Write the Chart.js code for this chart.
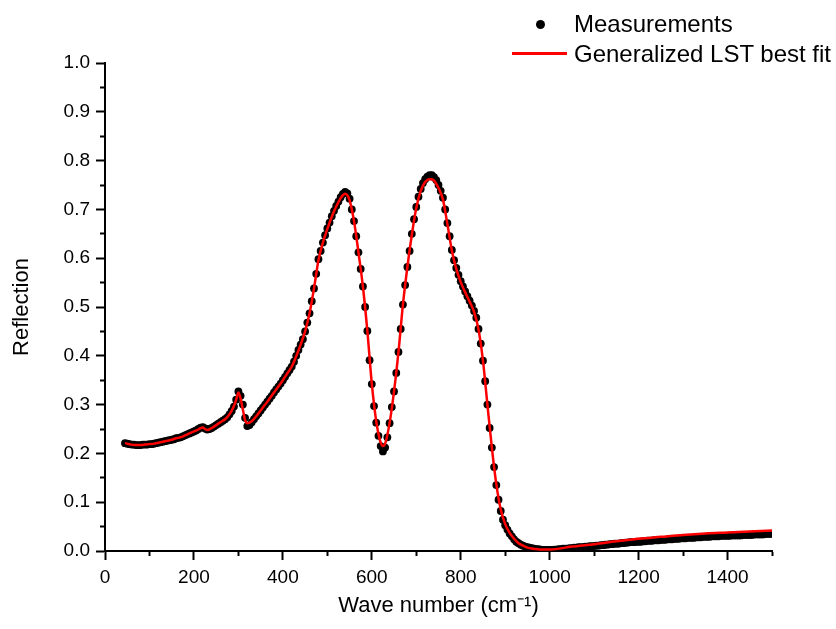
<!DOCTYPE html>
<html>
<head>
<meta charset="utf-8">
<script src="https://cdn.jsdelivr.net/npm/chart.js@4.4.1/dist/chart.umd.min.js"></script>
<style>
html,body{margin:0;padding:0;background:#fff;}
#wrap{position:relative;width:836px;height:629px;}
#legend{position:absolute;left:0;top:0;width:836px;height:70px;font-family:"Liberation Sans",Arial,sans-serif;font-size:24px;color:#000;pointer-events:none;}
.lt{position:absolute;left:574px;height:28px;line-height:28px;white-space:nowrap;}
.dot{position:absolute;left:536px;top:20px;width:9px;height:9px;border-radius:50%;background:#000;}
.ln{position:absolute;left:512px;top:52px;width:55px;height:2.5px;background:#ff0000;}
</style>
</head>
<body>
<div id="wrap">
<canvas id="c" width="836" height="629"></canvas>
<div id="legend">
  <div class="dot"></div><div class="lt" style="top:10px">Measurements</div>
  <div class="ln"></div><div class="lt" style="top:40px">Generalized LST best fit</div>
</div>
</div>
<script>
// Measurements: wave number (cm^-1) and reflection
const measWave = [
45,50,55,60,65,70,75,80,85,90,95,100,105,110,115,120,125,130,135,140,
145,150,155,160,165,170,175,180,185,190,195,200,205,210,215,220,225,230,235,240,
245,250,255,260,265,270,275,280,285,290,295,300,305,310,315,320,325,330,335,340,
345,350,355,360,365,370,375,380,385,390,395,400,405,410,415,420,425,430,435,440,
445,450,455,460,465,470,475,480,485,490,495,500,505,510,515,520,525,530,535,540,
545,550,555,560,565,570,575,580,585,590,595,600,605,610,615,620,625,630,635,640,
645,650,655,660,665,670,675,680,685,690,695,700,705,710,715,720,725,730,735,740,
745,750,755,760,765,770,775,780,785,790,795,800,805,810,815,820,825,830,835,840,
845,850,855,860,865,870,875,880,885,890,895,900,905,910,915,920,925,930,935,940,
945,950,955,960,965,970,975,980,985,990,995,1000,1005,1010,1015,1020,1025,1030,1035,1040,
1045,1050,1055,1060,1065,1070,1075,1080,1085,1090,1095,1100,1105,1110,1115,1120,1125,1130,1135,1140,
1145,1150,1155,1160,1165,1170,1175,1180,1185,1190,1195,1200,1205,1210,1215,1220,1225,1230,1235,1240,
1245,1250,1255,1260,1265,1270,1275,1280,1285,1290,1295,1300,1305,1310,1315,1320,1325,1330,1335,1340,
1345,1350,1355,1360,1365,1370,1375,1380,1385,1390,1395,1400,1405,1410,1415,1420,1425,1430,1435,1440,
1445,1450,1455,1460,1465,1470,1475,1480,1485,1490,1495,1500
];
const measRefl = [
0.221,0.220,0.219,0.218,0.218,0.217,0.217,0.217,0.218,0.218,0.218,0.219,0.219,0.220,0.221,0.222,0.223,0.224,0.225,0.226,
0.227,0.228,0.229,0.231,0.232,0.233,0.235,0.237,0.239,0.241,0.243,0.245,0.247,0.250,0.253,0.254,0.251,0.249,0.250,0.252,
0.255,0.258,0.261,0.264,0.267,0.270,0.274,0.280,0.287,0.296,0.310,0.327,0.318,0.300,0.273,0.256,0.258,0.264,0.270,0.276,
0.282,0.288,0.294,0.300,0.306,0.312,0.318,0.325,0.331,0.337,0.343,0.350,0.357,0.364,0.371,0.378,0.388,0.400,0.412,0.423,
0.434,0.450,0.468,0.487,0.512,0.538,0.568,0.598,0.615,0.632,0.647,0.661,0.673,0.686,0.697,0.707,0.716,0.725,0.732,0.736,
0.733,0.722,0.700,0.676,0.645,0.612,0.578,0.542,0.500,0.451,0.391,0.342,0.297,0.263,0.236,0.215,0.204,0.212,0.233,0.262,
0.295,0.327,0.365,0.408,0.455,0.505,0.545,0.582,0.615,0.650,0.680,0.705,0.726,0.742,0.754,0.762,0.767,0.770,0.770,0.766,
0.760,0.750,0.738,0.724,0.700,0.672,0.645,0.617,0.596,0.580,0.566,0.553,0.542,0.532,0.522,0.513,0.503,0.492,0.478,0.455,
0.425,0.390,0.348,0.300,0.252,0.212,0.172,0.135,0.105,0.082,0.064,0.053,0.044,0.036,0.030,0.024,0.019,0.016,0.013,0.011,
0.009,0.008,0.007,0.006,0.005,0.004,0.004,0.003,0.002,0.002,0.002,0.002,0.002,0.003,0.003,0.004,0.004,0.005,0.005,0.005,
0.006,0.006,0.007,0.007,0.008,0.008,0.008,0.009,0.009,0.010,0.010,0.010,0.011,0.011,0.012,0.012,0.013,0.013,0.014,0.014,
0.015,0.015,0.015,0.016,0.016,0.017,0.017,0.018,0.018,0.018,0.019,0.019,0.019,0.020,0.020,0.021,0.021,0.021,0.022,0.022,
0.022,0.023,0.023,0.023,0.024,0.024,0.024,0.025,0.025,0.025,0.026,0.026,0.026,0.027,0.027,0.027,0.027,0.028,0.028,0.028,
0.029,0.029,0.029,0.029,0.030,0.030,0.030,0.030,0.031,0.031,0.031,0.031,0.031,0.032,0.032,0.032,0.032,0.032,0.033,0.033,
0.033,0.033,0.033,0.034,0.034,0.034,0.034,0.034,0.035,0.035,0.035,0.035
];
// Generalized LST best fit
const fitWave = [
45,50,60,70,80,90,100,110,120,130,140,150,160,170,180,190,200,210,215,220,225,230,240,250,260,270,280,290,295,300,
305,310,315,320,330,340,350,360,370,380,390,400,410,420,430,440,450,460,470,480,490,500,510,520,530,535,540,545,550,560,
570,580,590,600,610,615,620,625,630,640,650,660,670,680,690,700,710,720,730,735,740,750,760,770,780,790,800,810,820,830,
840,850,860,870,880,890,900,910,920,930,940,950,960,970,980,990,1000,1050,1100,1150,1200,1250,1300,1350,1400,1450,1500
];
const fitRefl = [
0.221,0.220,0.218,0.217,0.217,0.218,0.219,0.220,0.222,0.224,0.226,0.228,0.231,0.233,0.237,0.241,0.245,0.249,0.252,0.253,0.250,0.248,0.252,0.258,0.264,0.270,0.280,0.297,0.310,0.325,
0.312,0.290,0.268,0.262,0.266,0.276,0.288,0.300,0.312,0.325,0.337,0.350,0.364,0.378,0.399,0.423,0.450,0.487,0.538,0.596,0.632,0.660,0.685,0.706,0.723,0.729,0.732,0.729,0.719,0.676,
0.612,0.542,0.451,0.343,0.265,0.240,0.222,0.215,0.220,0.262,0.327,0.408,0.505,0.582,0.648,0.703,0.738,0.756,0.762,0.762,0.759,0.744,0.720,0.670,0.616,0.578,0.551,0.530,0.511,0.490,
0.454,0.390,0.300,0.212,0.137,0.085,0.055,0.037,0.025,0.016,0.011,0.007,0.005,0.004,0.003,0.003,0.003,0.009,0.014,0.020,0.025,0.029,0.033,0.036,0.038,0.040,0.042
];
const xTitle = 'Wave number (cm\u207B\u00B9)';
const yTitle = 'Reflection';
const seriesNames = ['Measurements', 'Generalized LST best fit'];

const FONT = '"Liberation Sans", Arial, sans-serif';
Chart.defaults.font.family = FONT;
Chart.defaults.color = '#000';

const measData = measWave.map((x, i) => ({x: x, y: measRefl[i]}));
const fitData = fitWave.map((x, i) => ({x: x, y: fitRefl[i]}));

new Chart(document.getElementById('c'), {
  type: 'scatter',
  data: {
    datasets: [
      {
        label: seriesNames[1], type: 'line', data: fitData, order: 0,
        borderColor: '#ff0000', borderWidth: 2.5, pointRadius: 0, fill: false,
        showLine: true, cubicInterpolationMode: 'monotone'
      },
      {
        label: seriesNames[0], data: measData, order: 1,
        backgroundColor: '#000', borderColor: '#000', borderWidth: 0,
        pointRadius: 3.9, showLine: false
      }
    ]
  },
  options: {
    responsive: false, animation: false, devicePixelRatio: 1,
    layout: {padding: {top: 63, right: 64, left: 0, bottom: 0}},
    plugins: {legend: {display: false}, tooltip: {enabled: false}},
    scales: {
      x: {
        type: 'linear', min: 0, max: 1500,
        afterFit: s => { s.height = 78; },
        ticks: {
          stepSize: 100, autoSkip: false, maxRotation: 0, padding: 6,
          font: {size: 19}, color: '#000',
          callback: v => (Math.round(v) % 200 === 0 ? String(Math.round(v)) : '')
        },
        grid: {
          drawOnChartArea: false, drawTicks: true, tickLength: 9,
          tickColor: '#000', tickWidth: 2,
          tickBorderDash: ctx => (ctx.tick && Math.round(ctx.tick.value) % 200 !== 0) ? [4, 100] : []
        },
        border: {display: true, color: '#000', width: 2},
        title: {display: true, text: xTitle, font: {size: 22}, color: '#000', padding: {top: 0, bottom: 10}}
      },
      y: {
        type: 'linear', min: 0, max: 1,
        afterFit: s => { s.width = 105; },
        ticks: {
          stepSize: 0.05, autoSkip: false, padding: 6,
          font: {size: 19}, color: '#000',
          callback: v => { const k = Math.round(v * 100); return k % 10 === 0 ? (k / 100).toFixed(1) : ''; }
        },
        grid: {
          drawOnChartArea: false, drawTicks: true, tickLength: 9,
          tickColor: '#000', tickWidth: 2,
          tickBorderDash: ctx => (ctx.tick && Math.round(ctx.tick.value * 100) % 10 !== 0) ? [0, 4, 4, 100] : []
        },
        border: {display: true, color: '#000', width: 2},
        title: {display: true, text: yTitle, font: {size: 22}, color: '#000', padding: {top: 9, bottom: 0}}
      }
    }
  }
});
</script>
</body>
</html>
